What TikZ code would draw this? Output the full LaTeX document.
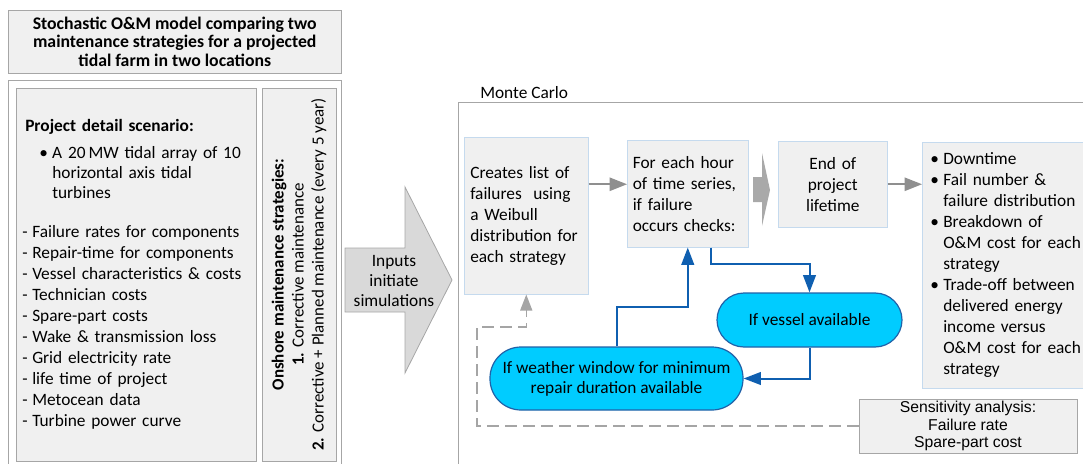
\documentclass[tikz,border=0pt]{standalone}
\usepackage{fontspec}
\setmainfont{Carlito}
\newfontfamily\arialfont{Liberation Sans}
\usepackage{xcolor}
\definecolor{frameline}{HTML}{A6A6A6}
\definecolor{boxfill}{HTML}{F0F0F0}
\definecolor{mcline}{HTML}{C5DAEE}
\definecolor{pillfill}{HTML}{00CCFF}
\definecolor{pillline}{HTML}{2162A8}
\definecolor{bluearrow}{HTML}{0F5FB0}
\definecolor{greyarrow}{HTML}{8F8F8F}
\definecolor{blockfill}{HTML}{D9D9D9}
\definecolor{chevronfill}{HTML}{A9A9A9}
\usepackage{tikz}
\usetikzlibrary{arrows.meta,positioning,calc}
\newlength\pxl \setlength\pxl{0.75pt}
\newcommand\mainsize{\fontsize{13}{15.75}\selectfont}
\newcommand\outbullet{\makebox[11\pxl][l]{\hspace*{-2\pxl}\textbullet}}
\newcommand\outindent{\hspace*{11\pxl}}
\newcommand\dashitem{\makebox[10\pxl][l]{-}}

\begin{document}
\begin{tikzpicture}[x=\pxl, y=-\pxl,
  font=\mainsize,
  greybox/.style={draw=frameline,fill=boxfill,inner sep=0pt,anchor=north west},
  mcbox/.style={draw=mcline,fill=boxfill,inner ysep=0pt,inner xsep=8\pxl,anchor=north west,align=left},
  pill/.style={draw=pillline,fill=pillfill,line width=0.9pt,inner sep=0pt,align=center},
  greyarr/.style={-{Triangle[length=13pt,width=10pt]},greyarrow,line width=1.2pt},
  bluearr/.style={-{Triangle[length=13pt,width=9.5pt]},bluearrow,line width=1.5pt},
  dasharr/.style={-{Triangle[length=12pt,width=9pt]},greyarrow!80,line width=1.1pt,dash pattern=on 9pt off 4.5pt}]
  \clip (0,0) rectangle (1083,464);

  % left column
  \node[greybox,minimum width=333\pxl,minimum height=63\pxl,align=center,
    font=\fontsize{13.3}{14}\selectfont\bfseries] (title) at (8,10)
    {Stochastic O\&M model comparing two\\maintenance strategies for a projected\\tidal farm in two locations};
  \node[draw=frameline,anchor=north west,minimum width=333\pxl,minimum height=420\pxl] (inputframe) at (8,80) {};
  \node[greybox,minimum width=240\pxl,minimum height=373\pxl,inner xsep=6\pxl,text width=228\pxl,align=left] (details) at (16,88)
    {\hspace*{3\pxl}\textbf{Project detail scenario:}\\[4.5pt]
     \hspace*{17\pxl}\makebox[13\pxl][l]{\textbullet}A 20\,MW tidal array of 10\\[-0.75pt]
     \hspace*{30\pxl}horizontal axis tidal\\[-0.75pt]
     \hspace*{30\pxl}turbines\\[13.5pt]
     \dashitem Failure rates for components\\
     \dashitem Repair-time for components\\
     \dashitem Vessel characteristics \& costs\\
     \dashitem Technician costs\\
     \dashitem Spare-part costs\\
     \dashitem Wake \& transmission loss\\
     \dashitem Grid electricity rate\\
     \dashitem life time of project\\
     \dashitem Metocean data\\
     \dashitem Turbine power curve};
  \node[draw=frameline,fill=boxfill,inner sep=0pt,rotate=90,minimum width=373\pxl,minimum height=74\pxl,
    align=center,font=\fontsize{12.7}{15}\selectfont] (strategies) at (299,274.5)
    {\textbf{Onshore maintenance strategies:}\\
     \textbf{1.} Corrective maintenance\\
     \textbf{2.} Corrective + Planned maintenance (every 5 year)};

  % block arrow into the simulation
  \filldraw[fill=blockfill,draw=frameline,line width=0.6pt]
    (345,248) -- (405,248) -- (405,187) -- (452,280) -- (405,373) -- (405,312) -- (345,312) -- cycle;
  \node[align=center,font=\fontsize{13}{15}\selectfont] (initiate) at (394,281) {Inputs\\initiate\\simulations};

  % Monte Carlo frame
  \node[draw=frameline,anchor=north west,minimum width=700\pxl,minimum height=420\pxl] (montecarlo) at (458,102) {};
  \node[anchor=south west,inner sep=0pt,above right=3\pxl and 22\pxl of montecarlo.north west] (mclabel) {Monte Carlo};

  \node[mcbox,minimum height=157\pxl,inner xsep=6\pxl,text width=112\pxl] (weibull) at (464,137)
    {Creates list of\\failures\ \ using\\a Weibull\\distribution for\\each strategy};
  \node[mcbox,minimum height=107\pxl,inner xsep=5.5\pxl,text width=110\pxl] (hour) at (627,140)
    {For each hour\\of time series,\\if failure\\occurs checks:};
  \node[mcbox,minimum height=86\pxl,inner xsep=4\pxl,text width=101\pxl,align=center] (endlife) at (778,141)
    {End of\\project\\lifetime};
  \node[mcbox,minimum height=246\pxl,inner xsep=10\pxl,text width=200\pxl] (outputs) at (922,142)
    {\outbullet Downtime\\
     \outbullet Fail number \&\\
     \outindent failure distribution\\
     \outbullet Breakdown of\\
     \outindent O\&M cost for each\\
     \outindent strategy\\
     \outbullet Trade-off between\\
     \outindent delivered energy\\
     \outindent income versus\\
     \outindent O\&M cost for each\\
     \outindent strategy};

  \node[pill,minimum width=185\pxl,minimum height=54\pxl,rounded corners=27\pxl] (vessel) at (809.5,320) {If vessel available};
  \node[pill,minimum width=253\pxl,minimum height=63\pxl,rounded corners=31\pxl,
    font=\fontsize{13}{15}\selectfont] (weather) at (616.5,378.5)
    {If weather window for minimum\\repair duration available};

  \node[greybox,anchor=center,minimum width=218\pxl,minimum height=54\pxl,align=center,
    font=\arialfont\fontsize{11.8}{13}\selectfont] (sensitivity) at (968,426)
    {Sensitivity analysis:\\Failure rate\\Spare-part cost};

  % chevron between loop and end
  \fill[chevronfill] (753,177) -- (762,177) -- (762,153) -- (770,190) -- (762,226) -- (762,202) -- (753,202) -- cycle;

  % connectors
  \draw[greyarr] (weibull.east |- endlife.west) -- (hour.west |- endlife.west);
  \draw[greyarr] (endlife.east) -- (outputs.west |- endlife.east);
  \draw[bluearr] ([xshift=23\pxl]hour.south) -- ++(0,16) -| (vessel.north);
  \draw[bluearr] (vessel.south) |- (weather.east);
  \draw[bluearr] (weather.north) -- ++(0,-39) -| (hour.south);
  \coordinate (dashturn) at (477,327);
  \draw[dasharr] (sensitivity.west) -| (dashturn) -| (weibull.south);
\end{tikzpicture}
\end{document}
